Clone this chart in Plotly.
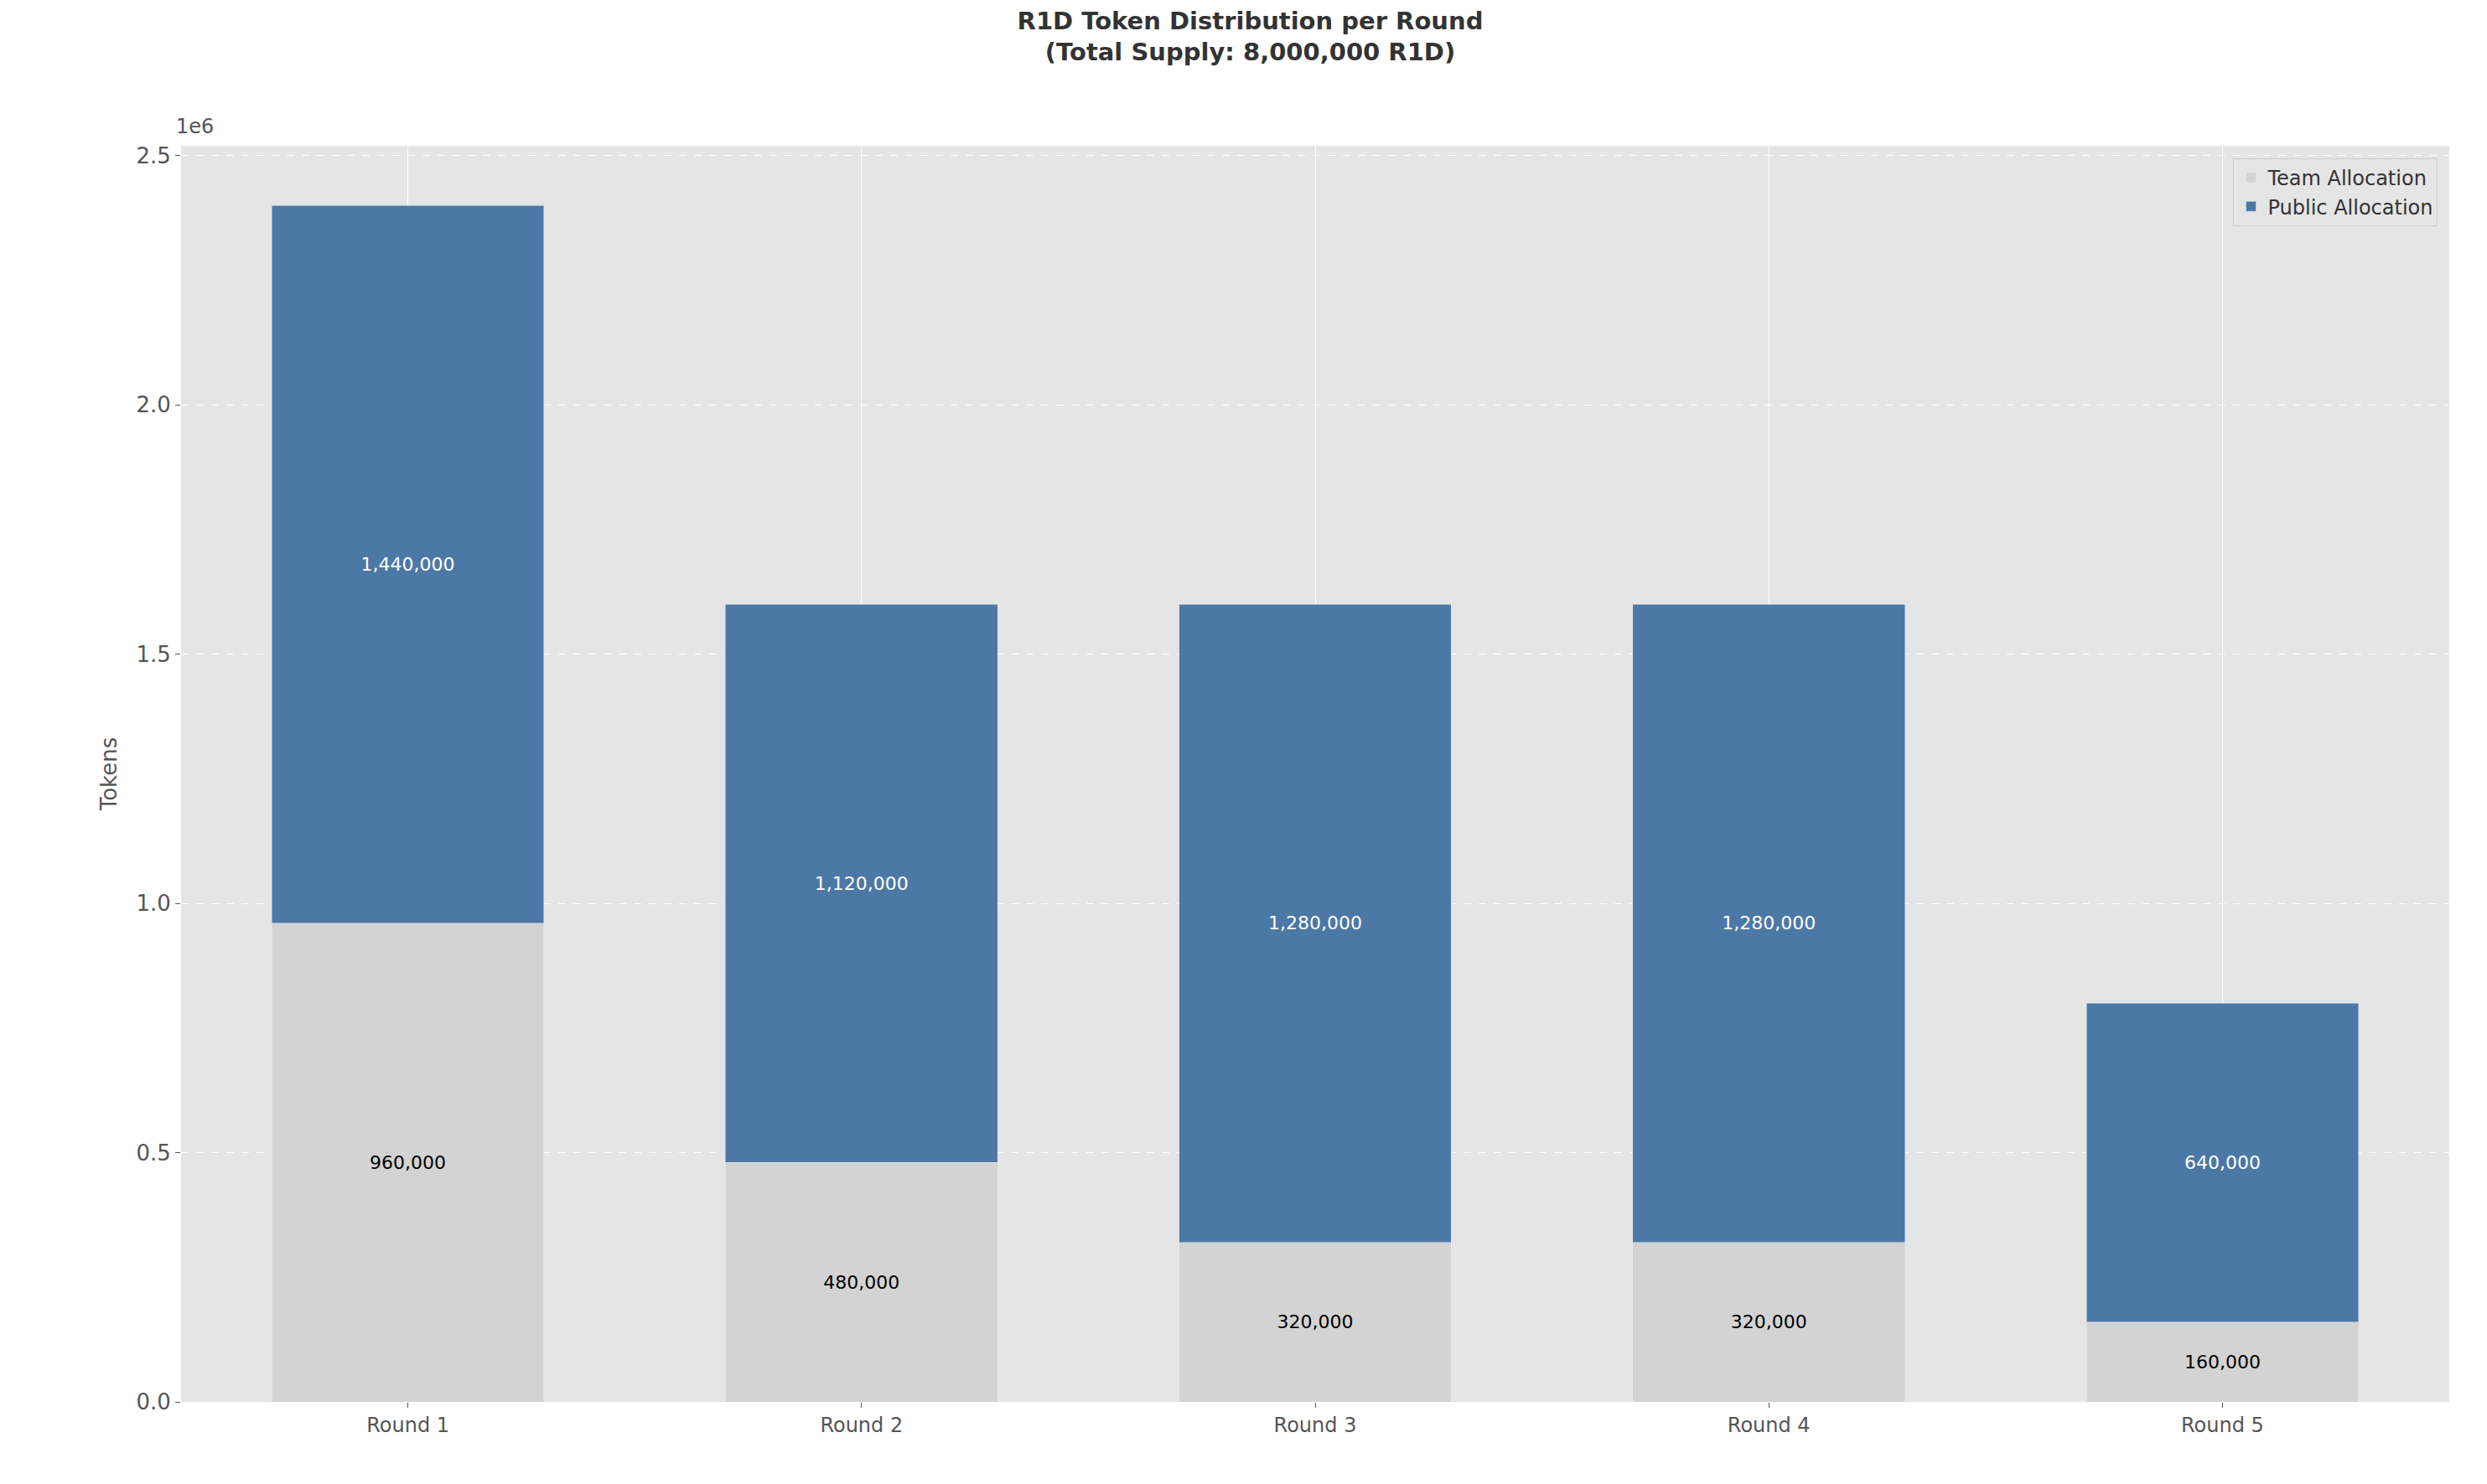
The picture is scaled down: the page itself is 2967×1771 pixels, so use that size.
import plotly.graph_objects as go

rounds = ["Round 1", "Round 2", "Round 3", "Round 4", "Round 5"]
team = [960000, 480000, 320000, 320000, 160000]
public = [1440000, 1120000, 1280000, 1280000, 640000]
ytick_vals = [0, 500000, 1000000, 1500000, 2000000, 2500000]
ytick_text = ["0.0", "0.5", "1.0", "1.5", "2.0", "2.5"]

fig = go.Figure()
fig.add_bar(x=rounds, y=team, name="Team Allocation", marker_color="#d3d3d3",
            width=0.6, text=[f"{v:,}" for v in team], textposition="inside",
            insidetextanchor="middle", textfont=dict(color="black", size=22),
            textangle=0)
fig.add_bar(x=rounds, y=public, name="Public Allocation", marker_color="#4c78a6",
            width=0.6, text=[f"{v:,}" for v in public], textposition="inside",
            insidetextanchor="middle", textfont=dict(color="white", size=22),
            textangle=0)

fig.add_annotation(text="1e6", xref="paper", yref="paper", x=0, y=1.005,
                   xanchor="left", yanchor="bottom", showarrow=False,
                   font=dict(size=24, color="#555"), xshift=-8)

fig.update_layout(
    barmode="stack",
    width=2967, height=1771,
    paper_bgcolor="white", plot_bgcolor="#e5e5e5",
    font=dict(family="DejaVu Sans", size=24, color="#555"),
    title=dict(text="<b>R1D Token Distribution per Round<br>(Total Supply: 8,000,000 R1D)</b>",
               x=0.5, xanchor="center", y=0.985, yanchor="top",
               font=dict(size=29, color="#333")),
    margin=dict(l=208, r=53, t=166, b=106),
    showlegend=True,
    legend=dict(x=0.995, y=0.99, xanchor="right", yanchor="top",
                bgcolor="#e5e5e5", bordercolor="#cccccc", borderwidth=1,
                font=dict(size=24, color="#333"), traceorder="normal"),
    uniformtext=dict(minsize=10),
)
fig.update_xaxes(showgrid=True, gridcolor="white", gridwidth=1,
                 tickfont=dict(size=24, color="#555"), ticks="outside",
                 ticklen=6, tickcolor="#555")
fig.update_yaxes(range=[0, 2520000], tickvals=ytick_vals, ticktext=ytick_text,
                 showgrid=True, gridcolor="white", griddash="dash", gridwidth=1,
                 title=dict(text="Tokens", font=dict(size=26, color="#555")),
                 tickfont=dict(size=26, color="#555"), ticks="outside",
                 ticklen=6, tickcolor="#555", zeroline=False)

fig.write_html("out.html")
